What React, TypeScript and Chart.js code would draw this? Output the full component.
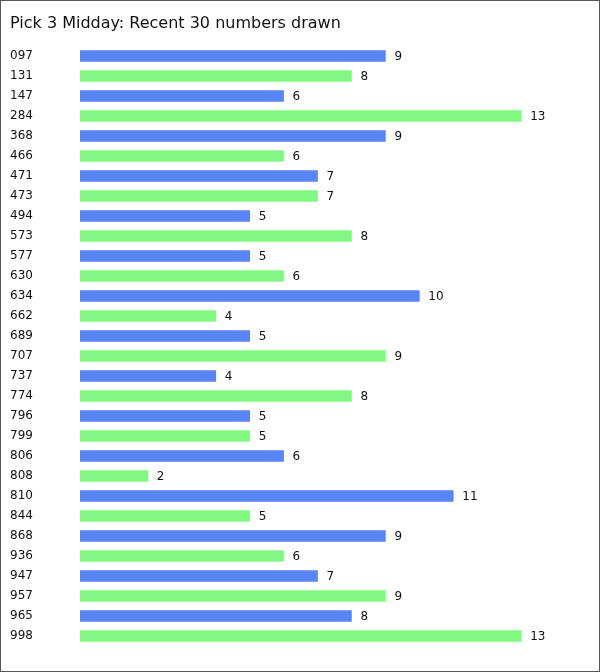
import React, { useEffect, useRef } from "react";
import { Chart, registerables } from "chart.js";

Chart.register(...registerables);

const TITLE = "Pick 3 Midday: Recent 30 numbers drawn";
const numbers = [
  "097", "131", "147", "284", "368", "466", "471", "473", "494", "573",
  "577", "630", "634", "662", "689", "707", "737", "774", "796", "799",
  "806", "808", "810", "844", "868", "936", "947", "957", "965", "998",
];
const counts = [
  9, 8, 6, 13, 9, 6, 7, 7, 5, 8,
  5, 6, 10, 4, 5, 9, 4, 8, 5, 5,
  6, 2, 11, 5, 9, 6, 7, 9, 8, 13,
];
const BLUE = "rgb(88,133,250)";
const GREEN = "rgb(130,247,130)";
const FONT = "'DejaVu Sans', Verdana, sans-serif";

const valueLabels = {
  id: "valueLabels",
  afterDatasetsDraw(chart: any) {
    const ctx = chart.ctx;
    const meta = chart.getDatasetMeta(0);
    ctx.save();
    ctx.font = `12px ${FONT}`;
    ctx.fillStyle = "#111";
    ctx.textAlign = "left";
    ctx.textBaseline = "middle";
    meta.data.forEach((bar: any, i: number) => {
      ctx.fillText(String(counts[i]), bar.x + 9, bar.y + 1);
    });
    ctx.restore();
  },
};

const frame = {
  id: "frame",
  afterDraw(chart: any) {
    const ctx = chart.ctx;
    ctx.save();
    ctx.strokeStyle = "#555";
    ctx.lineWidth = 1;
    ctx.strokeRect(0.5, 0.5, chart.width - 1, chart.height - 1);
    ctx.restore();
  },
};

export default function App() {
  const ref = useRef<HTMLCanvasElement>(null);
  useEffect(() => {
    if (!ref.current) return;
    const chart = new Chart(ref.current, {
      type: "bar",
      data: {
        labels: numbers,
        datasets: [
          {
            data: counts,
            backgroundColor: counts.map((_, i) => (i % 2 === 0 ? BLUE : GREEN)),
            barThickness: 11,
            borderWidth: 0,
          },
        ],
      },
      options: {
        indexAxis: "y",
        responsive: false,
        animation: false,
        layout: { padding: { left: 10, right: 11, top: 0, bottom: 26 } },
        plugins: {
          legend: { display: false },
          tooltip: { enabled: false },
          title: {
            display: true,
            text: TITLE,
            align: "start",
            color: "#111",
            font: { family: FONT, size: 16, weight: "normal", lineHeight: 1.2 },
            padding: { top: 14, bottom: 12.8 },
          },
        },
        scales: {
          x: { display: false, min: 0, max: 15 },
          y: {
            grid: { display: false, drawTicks: false },
            border: { display: false },
            ticks: {
              crossAlign: "far",
              padding: 0,
              color: "#111",
              font: { family: FONT, size: 12 },
            },
            afterFit(axis: any) {
              axis.width = 70;
            },
          },
        },
      },
      plugins: [valueLabels, frame],
    } as any);
    return () => chart.destroy();
  }, []);
  return (
    <div style={{ position: "absolute", left: 0, top: 0, width: 600, height: 672 }}>
      <canvas ref={ref} width={600} height={672} style={{ display: "block", width: 600, height: 672 }} />
    </div>
  );
}
